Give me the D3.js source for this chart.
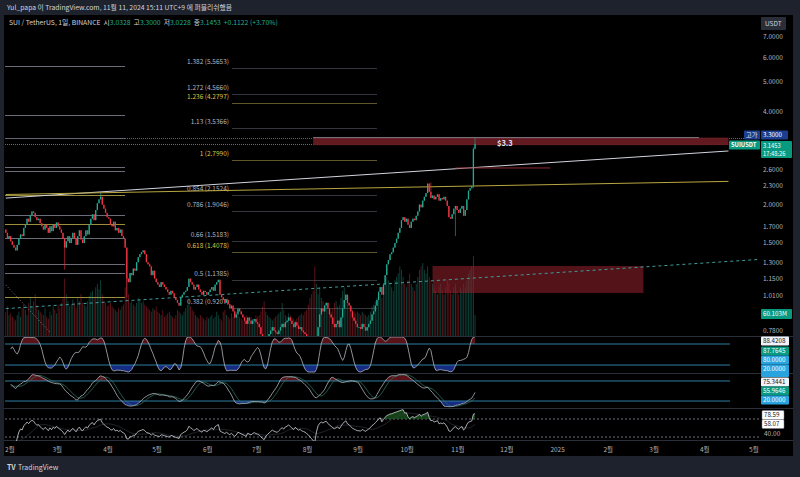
<!DOCTYPE html>
<html><head><meta charset="utf-8">
<script src="https://cdnjs.cloudflare.com/ajax/libs/d3/7.8.5/d3.min.js"></script>
<style>
html,body{margin:0;padding:0;background:#000;overflow:hidden}
svg{display:block}
text{font-family:"Noto Sans CJK KR","Noto Sans",sans-serif}
</style></head>
<body><svg id="chart" width="800" height="477"></svg>
<script>
// ---- data ----
var startDate = new Date(2024, 0, 29);
var firstOpen = 1.66;
var closes = [
  // Jan 29-31
  1.62,1.55,1.58,
  // Feb
  1.52,1.48,1.45,1.42,1.48, 1.55,1.60,1.58,1.68,1.72, 1.80,1.76,1.85,1.90,1.88,
  1.82,1.78,1.80,1.74,1.70, 1.66,1.72,1.68,1.62,1.70, 1.64,1.72,1.68,1.75,
  // Mar
  1.70,1.66,1.62,1.55,1.45, 1.52,1.58,1.50,1.56,1.62, 1.55,1.48,1.58,1.65,1.54,
  1.50,1.58,1.65,1.60,1.72, 1.80,1.86,1.78,1.92,2.02, 2.08,2.12,2.00,1.94,1.88, 1.82,
  // Apr
  1.80,1.72,1.70,1.76,1.65, 1.68,1.62,1.66,1.58,1.55, 1.45,1.15,1.12,1.20,1.18,
  1.24,1.22,1.30,1.35,1.38, 1.40,1.42,1.38,1.30,1.28, 1.26,1.18,1.22,1.15,1.12,
  // May
  1.10,1.08,1.12,1.10,1.08, 1.06,1.04,1.02,1.05,1.03, 1.00,0.98,0.96,0.94,1.00,
  1.02,1.04,1.05,1.08,1.15, 1.12,1.10,1.06,1.08,1.10, 1.06,1.04,1.02,1.05,1.04, 1.02,
  // Jun
  1.04,1.06,1.08,1.05,1.10, 1.12,1.14,1.02,1.00,0.98, 0.96,0.98,0.95,0.92,0.94,
  0.90,0.86,0.88,0.92,0.90, 0.88,0.86,0.84,0.82,0.86, 0.84,0.82,0.84,0.85,0.83,
  // Jul
  0.82,0.80,0.76,0.72,0.68, 0.72,0.74,0.76,0.78,0.80, 0.78,0.77,0.76,0.78,0.80,
  0.82,0.80,0.83,0.84,0.86, 0.84,0.82,0.80,0.83,0.81, 0.79,0.80,0.78,0.77,0.76, 0.74,
  // Aug
  0.72,0.68,0.64,0.58,0.52, 0.66,0.80,0.88,0.92,0.90, 0.94,0.96,0.92,0.88,0.86,
  0.82,0.80,0.82,0.84,0.80, 0.86,0.92,0.98,1.02,0.96, 0.94,0.90,0.86,0.84,0.82, 0.80,
  // Sep
  0.80,0.79,0.82,0.80,0.78, 0.80,0.82,0.84,0.88,0.90, 0.94,0.98,1.04,1.08,1.02,
  1.10,1.18,1.28,1.32,1.38, 1.40,1.45,1.50,1.55,1.62, 1.68,1.78,1.82,1.76,1.80,
  // Oct
  1.72,1.68,1.76,1.80,1.78, 1.84,1.90,2.00,1.96,2.06, 2.12,2.18,2.34,2.20,2.10,
  2.14,2.08,2.12,2.16,2.06, 2.10,2.08,2.12,2.06,1.98, 1.82,1.80,1.86,1.94,1.98, 1.92,
  // Nov 1-11
  1.88,1.94,1.98,1.84,1.92, 2.08,2.22,2.26,2.30,3.0328,3.1453
];
// notable wick extremes: [day index, high, low]
var wicks = [
  [36, null, 1.23], [74, null, 1.00], [189, null, 0.47], [260, 2.36, null],
  [275, null, 1.58], [286, 3.07, 2.26], [287, 3.30, 3.0228], [58, 2.18, null]
];
// volume, millions
var volumes = [
  70,85,60,
  65,55,50,45,60, 70,55,80,90,75, 60,95,110,85,100, 120,90,75,70,65, 60,80,55,50,70, 60,85,75,65,
  90,80,95,110,165, 120,100,85,90,105, 95,80,110,100,120, 95,90,85,100,115, 125,130,110,140,150, 135,160,120,100,95, 85,
  90,95,85,80,75, 70,80,75,85,90, 140,170,120,95,100, 90,85,95,110,105, 95,100,90,85,80, 75,70,80,75,85,
  70,65,60,75,55, 60,65,70,60,55, 50,60,75,70,65, 60,70,80,90,110, 85,75,70,60,55, 50,60,55,50,45, 55,
  50,55,60,50,55, 70,60,50,45,70, 75,60,55,50,65, 55,80,70,60,55, 50,45,55,60,50, 45,55,50,45,60,
  55,60,70,85,100, 70,60,55,50,45, 50,55,60,65,70, 95,75,60,55,65, 60,55,50,45,50, 55,60,65,60,70, 75,
  90,110,120,130,200, 150,120,140,110,100, 90,85,80,75,70, 80,95,100,85,90, 110,130,140,120,100, 85,80,75,70,65, 70,
  65,60,70,65,60, 55,60,70,85,90, 100,110,130,120,110, 140,150,170,160,150, 140,130,160,170,180, 200,190,170,150,140,
  160,180,150,140,130, 150,170,190,200,210, 190,180,200,170,160, 150,140,130,120,140, 150,130,120,140,160, 150,130,120,140,150, 130,
  120,140,130,150,140, 160,180,190,200,230, 60.103
];
var fibNames = ["1.382","1.272","1.236","1.13","1","0.854","0.786","0.66","0.618","0.5","0.382"];
var fibPrices = [5.5653,4.5660,4.2797,3.5366,2.7990,2.1524,1.9046,1.5183,1.4078,1.1385,0.9207];
var fibYellow = ["1.236","1","0.618"];
var leftLevels = [5.64,3.91,3.30,2.65,2.57,2.15,1.85,1.73,1.56,1.28,1.20,1.00];
var leftYellow = [2.15,1.73,1.00];
var priceTicks = [7,6,5,4,2.6,2.3,2.0,1.7,1.5,1.3,1.15,1.01,0.78];
// trend lines: [day index, price] pairs
var whiteTrend = [[0,2.10],[442,2.986]];
var yellowTrend = [[0,2.157],[442,2.379]];
var tealTrend = [[0,0.919],[462,1.329]];
var grayDiag = [[0,1.097],[27.5,0.766]];
var redShort = [[275,2.63],[333,2.63]];
var topZone = {from:188, to:442, lo:3.12, hi:3.30};
var boxZone = {from:261, to:390, lo:1.033, hi:1.264};
var lastPrice = 3.1453, highPrice = 3.30;

// ---- scales ----
var svg = d3.select('#chart');
var y = d3.scaleLog().domain([7, 1.01]).range([37, 296]);
var x = d3.scaleTime().domain([startDate, d3.timeDay.offset(startDate, 100)]).range([5, 168.5]);
var xi = (i) => x(d3.timeDay.offset(startDate, Math.floor(i))) + (i % 1) * 1.635 + 0.8;
var vol = d3.scaleLinear().domain([0, 230]).range([336, 256]);
var up = "#22ab94", down = "#f23645";

var candles = closes.map((c, i) => {
  var o = i ? closes[i - 1] : firstOpen;
  return {i: i, o: o, c: c, h: Math.max(o, c), l: Math.min(o, c), v: volumes[i]};
});
wicks.forEach((w) => {
  var d = candles[w[0]];
  if (w[1] != null) d.h = w[1];
  if (w[2] != null) d.l = w[2];
});

// ---- indicators (computed from closes) ----
function rsiSeries(c, n){
  var ag = 0, al = 0, out = [null];
  for (var i = 1; i < c.length; i++){
    var ch = c[i] - c[i-1], k = Math.min(i, n);
    ag = (ag * (k - 1) + Math.max(ch, 0)) / k;
    al = (al * (k - 1) + Math.max(-ch, 0)) / k;
    out.push(al === 0 ? 100 : 100 - 100 / (1 + ag / al));
  }
  return out;
}
function stochOf(a, n){
  return a.map((v, i) => {
    if (v == null) return null;
    var w = a.slice(Math.max(0, i - n + 1), i + 1).filter((d) => d != null);
    var mn = d3.min(w), mx = d3.max(w);
    return mx - mn < 1e-9 ? 50 : (v - mn) / (mx - mn) * 100;
  });
}
function sma(a, n){
  return a.map((v, i) => {
    var w = a.slice(Math.max(0, i - n + 1), i + 1).filter((d) => d != null);
    return w.length ? d3.mean(w) : null;
  });
}
var rsi = rsiSeries(closes, 14);
var k1 = sma(sma(stochOf(rsi, 14), 3), 3);
var k2 = sma(stochOf(rsi, 28), 10), d2 = sma(k2, 6);
var rsiMa = sma(rsi, 14);

// ---- background ----
svg.append('rect').attr('width', 800).attr('height', 477).attr('fill', '#000');
svg.append('rect').attr('width', 800).attr('height', 15).attr('fill', '#1e222d');
svg.append('rect').attr('y', 456).attr('width', 800).attr('height', 21).attr('fill', '#1e222d');
svg.append('rect').attr('y', 15).attr('width', 4).attr('height', 441).attr('fill', '#1e222d');
svg.append('rect').attr('x', 793).attr('y', 15).attr('width', 7).attr('height', 441).attr('fill', '#1e222d');

var defs = svg.append('defs');
function clip(id, x0, y0, w, h){
  defs.append('clipPath').attr('id', id).append('rect').attr('x', x0).attr('y', y0).attr('width', w).attr('height', h);
}
clip('cMain', 4, 15, 756, 321);
clip('cP1', 4, 337, 756, 36);
clip('cP2', 4, 374, 756, 34);
clip('cP3', 4, 409, 756, 32);
clip('cAxis', 0, 440, 760, 16);

var main = svg.append('g').attr('clip-path', 'url(#cMain)');
var line = d3.line().x((d) => xi(d[0])).y((d) => y(d[1]));

// left-hand horizontal levels
main.selectAll('.lvl').data(leftLevels).enter().append('line')
  .attr('x1', 5).attr('x2', 125)
  .attr('y1', (d) => Math.round(y(d)) + 0.5).attr('y2', (d) => Math.round(y(d)) + 0.5)
  .attr('stroke', (d) => leftYellow.includes(d) ? '#9c8f3c' : '#6a6d78').attr('stroke-width', 1);

// fib retracement
fibNames.forEach((n, k) => {
  var p = fibPrices[k], yy = Math.round(y(p)) + 0.5, yel = fibYellow.includes(n);
  main.append('line').attr('x1', 232).attr('x2', 377).attr('y1', yy).attr('y2', yy)
    .attr('stroke', yel ? '#5e5729' : '#34363e').attr('stroke-width', 1);
  main.append('text').attr('x', 229).attr('y', yy - 5).attr('text-anchor', 'end')
    .attr('font-size', 6.5).attr('fill', yel ? '#d8c445' : '#b2b5be')
    .text(n + ' (' + p.toFixed(4) + ')');
});

// price lines
main.append('line').attr('x1', 5).attr('x2', 760).attr('y1', Math.round(y(highPrice)) + 0.5).attr('y2', Math.round(y(highPrice)) + 0.5)
  .attr('stroke', '#5d606b').attr('stroke-dasharray', '1,1');
main.append('line').attr('x1', 5).attr('x2', 760).attr('y1', Math.round(y(lastPrice)) + 0.5).attr('y2', Math.round(y(lastPrice)) + 0.5)
  .attr('stroke', '#1d8f7e').attr('stroke-dasharray', '1,1');

// volume
main.selectAll('.vol').data(candles).enter().append('rect')
  .attr('x', (d) => xi(d.i) - 0.45).attr('width', 0.9)
  .attr('y', (d) => vol(d.v)).attr('height', (d) => 336 - vol(d.v))
  .attr('fill', (d) => d.c >= d.o ? up : down).attr('opacity', 0.4);

// zones
main.append('rect').attr('x', xi(topZone.from)).attr('width', xi(topZone.to) - xi(topZone.from))
  .attr('y', y(topZone.hi)).attr('height', y(topZone.lo) - y(topZone.hi))
  .attr('fill', '#6e1c23').attr('opacity', 0.9);
main.append('line').attr('x1', xi(topZone.from)).attr('x2', xi(424))
  .attr('y1', y(topZone.hi)).attr('y2', y(topZone.hi)).attr('stroke', '#9598a1').attr('stroke-width', 0.8);
main.append('rect').attr('x', xi(boxZone.from)).attr('width', xi(boxZone.to) - xi(boxZone.from))
  .attr('y', y(boxZone.hi)).attr('height', y(boxZone.lo) - y(boxZone.hi))
  .attr('fill', '#8c1f2a').attr('opacity', 0.6);

// trend lines
main.append('path').attr('d', line(whiteTrend)).attr('stroke', '#d1d4dc').attr('stroke-width', 1).attr('fill', 'none');
main.append('path').attr('d', line(yellowTrend)).attr('stroke', '#b8a640').attr('stroke-width', 1).attr('fill', 'none');
main.append('path').attr('d', line(tealTrend)).attr('stroke', '#3f9c9a').attr('stroke-width', 1)
  .attr('stroke-dasharray', '3,3').attr('fill', 'none');
main.append('path').attr('d', line(grayDiag)).attr('stroke', '#9598a1').attr('stroke-width', 0.8)
  .attr('stroke-dasharray', '1,2').attr('fill', 'none');
main.append('path').attr('d', line(redShort)).attr('stroke', '#8a2a33').attr('stroke-width', 1).attr('fill', 'none');

// candles
var cg = main.selectAll('.cdl').data(candles).enter().append('g');
cg.append('line').attr('x1', (d) => xi(d.i)).attr('x2', (d) => xi(d.i))
  .attr('y1', (d) => y(d.h)).attr('y2', (d) => y(d.l))
  .attr('stroke', (d) => d.c >= d.o ? up : down).attr('stroke-width', 0.6);
cg.append('rect').attr('x', (d) => xi(d.i) - 0.65).attr('width', 1.3)
  .attr('y', (d) => y(Math.max(d.o, d.c)))
  .attr('height', (d) => Math.max(0.8, y(Math.min(d.o, d.c)) - y(Math.max(d.o, d.c))))
  .attr('fill', (d) => d.c >= d.o ? up : down);

main.append('text').attr('x', 497).attr('y', y(lastPrice) + 2).attr('font-size', 7.5)
  .attr('font-weight', 'bold').attr('fill', '#e0e3eb').text('$3.3');

// ---- panes ----
svg.selectAll('.sep').data([336.5, 373.5, 408.5, 440.5]).enter().append('line')
  .attr('x1', 4).attr('x2', 793).attr('y1', (d) => d).attr('y2', (d) => d)
  .attr('stroke', '#2a2e39').attr('stroke-width', 1);

function oscPane(id, scale, k, d, bandCol){
  var g = svg.append('g').attr('clip-path', 'url(#' + id + ')');
  var pts = k.map((v, i) => [i, v]).filter((p) => p[1] != null && p[0] >= 3);
  g.append('path').datum(pts).attr('fill', '#c62833').attr('opacity', 0.45)
    .attr('d', d3.area().x((p) => xi(p[0])).y0(scale(80)).y1((p) => scale(Math.max(p[1], 80))));
  g.append('path').datum(pts).attr('fill', '#2448d8').attr('opacity', 0.6)
    .attr('d', d3.area().x((p) => xi(p[0])).y0(scale(20)).y1((p) => scale(Math.min(p[1], 20))));
  [80, 20].forEach((b) => g.append('line').attr('x1', 5).attr('x2', 730)
    .attr('y1', scale(b)).attr('y2', scale(b)).attr('stroke', bandCol).attr('stroke-width', 1));
  if (d) {
    var dp = d.map((v, i) => [i, v]).filter((p) => p[1] != null && p[0] >= 3);
    g.append('path').datum(dp).attr('fill', 'none').attr('stroke', '#2f6f5e').attr('stroke-width', 0.8)
      .attr('d', d3.line().x((p) => xi(p[0])).y((p) => scale(p[1])));
  }
  g.append('path').datum(pts).attr('fill', 'none').attr('stroke', '#b2b5be').attr('stroke-width', 0.8)
    .attr('d', d3.line().x((p) => xi(p[0])).y((p) => scale(p[1])));
}
var p1 = d3.scaleLinear().domain([0, 100]).range([372, 337]);
var p2 = d3.scaleLinear().domain([0, 100]).range([407.7, 374.3]);
var p3 = d3.scaleLinear().domain([30, 70]).range([437, 419]);
oscPane('cP1', p1, k1, null, '#2e7fa5');
oscPane('cP2', p2, k2, d2, '#2e7fa5');

var g3 = svg.append('g').attr('clip-path', 'url(#cP3)');
[70, 30].forEach((b) => g3.append('line').attr('x1', 5).attr('x2', 760)
  .attr('y1', p3(b)).attr('y2', p3(b)).attr('stroke', '#6a6d78').attr('stroke-dasharray', '2,2'));
var rp = rsi.map((v, i) => [i, v]).filter((p) => p[1] != null && p[0] >= 5);
var mp = rsiMa.map((v, i) => [i, v]).filter((p) => p[1] != null && p[0] >= 5);
g3.append('path').datum(rp).attr('fill', '#1b5e20').attr('opacity', 0.7)
  .attr('d', d3.area().x((p) => xi(p[0])).y0(p3(70)).y1((p) => p3(Math.max(p[1], 70))));
g3.append('path').datum(mp).attr('fill', 'none').attr('stroke', '#3a3d45').attr('stroke-width', 0.6)
  .attr('d', d3.line().x((p) => xi(p[0])).y((p) => p3(p[1])));
g3.append('path').datum(rp).attr('fill', 'none').attr('stroke', '#d1d4dc').attr('stroke-width', 0.8)
  .attr('d', d3.line().x((p) => xi(p[0])).y((p) => p3(p[1])));

// ---- price axis ----
var ax = svg.append('g');
ax.selectAll('.tk').data(priceTicks).enter().append('text')
  .attr('x', 763).attr('y', (d) => y(d) + 2.3).attr('font-size', 6.5).attr('fill', '#b2b5be')
  .text((d) => d.toFixed(4));

function tag(x0, yc, w, h, fill, lines, color, opts){
  opts = opts || {};
  ax.append('rect').attr('x', x0).attr('y', yc - h / 2).attr('width', w).attr('height', h)
    .attr('fill', fill).attr('rx', 1).attr('stroke', opts.stroke || 'none').attr('stroke-width', 0.5);
  lines.forEach((t, k) => ax.append('text').attr('x', x0 + 2).attr('y', yc - h / 2 + 6.6 + k * 8)
    .attr('font-size', opts.size || 6.2).attr('font-weight', opts.bold ? 'bold' : 'normal')
    .attr('fill', color).text(t));
}
tag(761, 23.5, 25, 13, '#2a2e39', [], '#d1d4dc');
ax.append('text').attr('x', 765).attr('y', 26).attr('font-size', 6.5).attr('fill', '#d1d4dc').text('USDT');
tag(744, 135, 16, 9, '#1c3e8f', ['고가'], '#e0e3eb');
tag(761, 135, 27, 9, '#1c3e8f', ['3.3000'], '#ffffff');
tag(729, 145, 31, 9, '#089981', ['SUIUSDT'], '#ffffff', {bold: true, size: 5.8});
tag(761, 149.5, 31, 17, '#089981', ['3.1453', '17:48:26'], '#ffffff', {size: 5.8});
tag(761, 314, 31, 10, '#089981', ['60.103M'], '#ffffff');
tag(761, 341, 28, 9, '#f0f3fa', ['88.4208'], '#131722');
tag(761, 351, 28, 9, '#089981', ['87.7645'], '#ffffff');
tag(761, 360, 28, 9, '#29a3e0', ['80.0000'], '#ffffff');
tag(761, 369, 28, 9, '#29a3e0', ['20.0000'], '#ffffff');
tag(761, 375, 28, 4, '#29a3e0', [], '#ffffff');
tag(761, 382, 28, 9, '#f0f3fa', ['75.3441'], '#131722');
tag(761, 391, 28, 9, '#089981', ['55.9646'], '#ffffff');
tag(761, 400, 28, 9, '#29a3e0', ['20.0000'], '#ffffff');
tag(762, 415, 22, 9, '#ffffff', ['78.59'], '#131722', {stroke: '#787b86'});
tag(762, 424, 22, 9, '#ffffff', ['58.07'], '#131722', {stroke: '#787b86'});
ax.append('text').attr('x', 764).attr('y', 435.5).attr('font-size', 6.5).attr('fill', '#b2b5be').text('40.00');

// ---- time axis ----
var months = d3.timeMonth.range(new Date(2024, 1, 1), new Date(2025, 4, 2));
svg.append('g').attr('clip-path', 'url(#cAxis)').selectAll('text').data(months).enter().append('text')
  .attr('x', (d) => x(d)).attr('y', 452).attr('text-anchor', 'middle')
  .attr('font-size', 6.5).attr('fill', '#b2b5be')
  .text((d) => d.getMonth() === 0 ? d.getFullYear() : (d.getMonth() + 1) + '월');

// ---- header / legend / footer ----
svg.append('text').attr('x', 7).attr('y', 10).attr('font-size', 6.8).attr('fill', '#d1d4dc')
  .text('Yul_papa 이 TradingView.com, 11월 11, 2024 15:11 UTC+9 에 퍼블리쉬했음');
var leg = svg.append('text').attr('x', 9).attr('y', 25).attr('font-size', 6.8).attr('fill', '#d1d4dc');
[['SUI / TetherUS, 1일, BINANCE  시', '#d1d4dc'], ['3.0328', up], ['  고', '#d1d4dc'], ['3.3000', up],
 ['  저', '#d1d4dc'], ['3.0228', up], ['  종', '#d1d4dc'], ['3.1453', up], ['  +0.1122 (+3.70%)', up]]
  .forEach((s) => leg.append('tspan').attr('fill', s[1]).attr('xml:space', 'preserve').text(s[0]));
svg.append('text').attr('x', 7).attr('y', 470).attr('font-size', 7).attr('font-weight', 'bold')
  .attr('fill', '#d1d4dc').text('TV');
svg.append('text').attr('x', 18).attr('y', 470).attr('font-size', 7).attr('fill', '#d1d4dc').text('TradingView');
</script></body></html>
